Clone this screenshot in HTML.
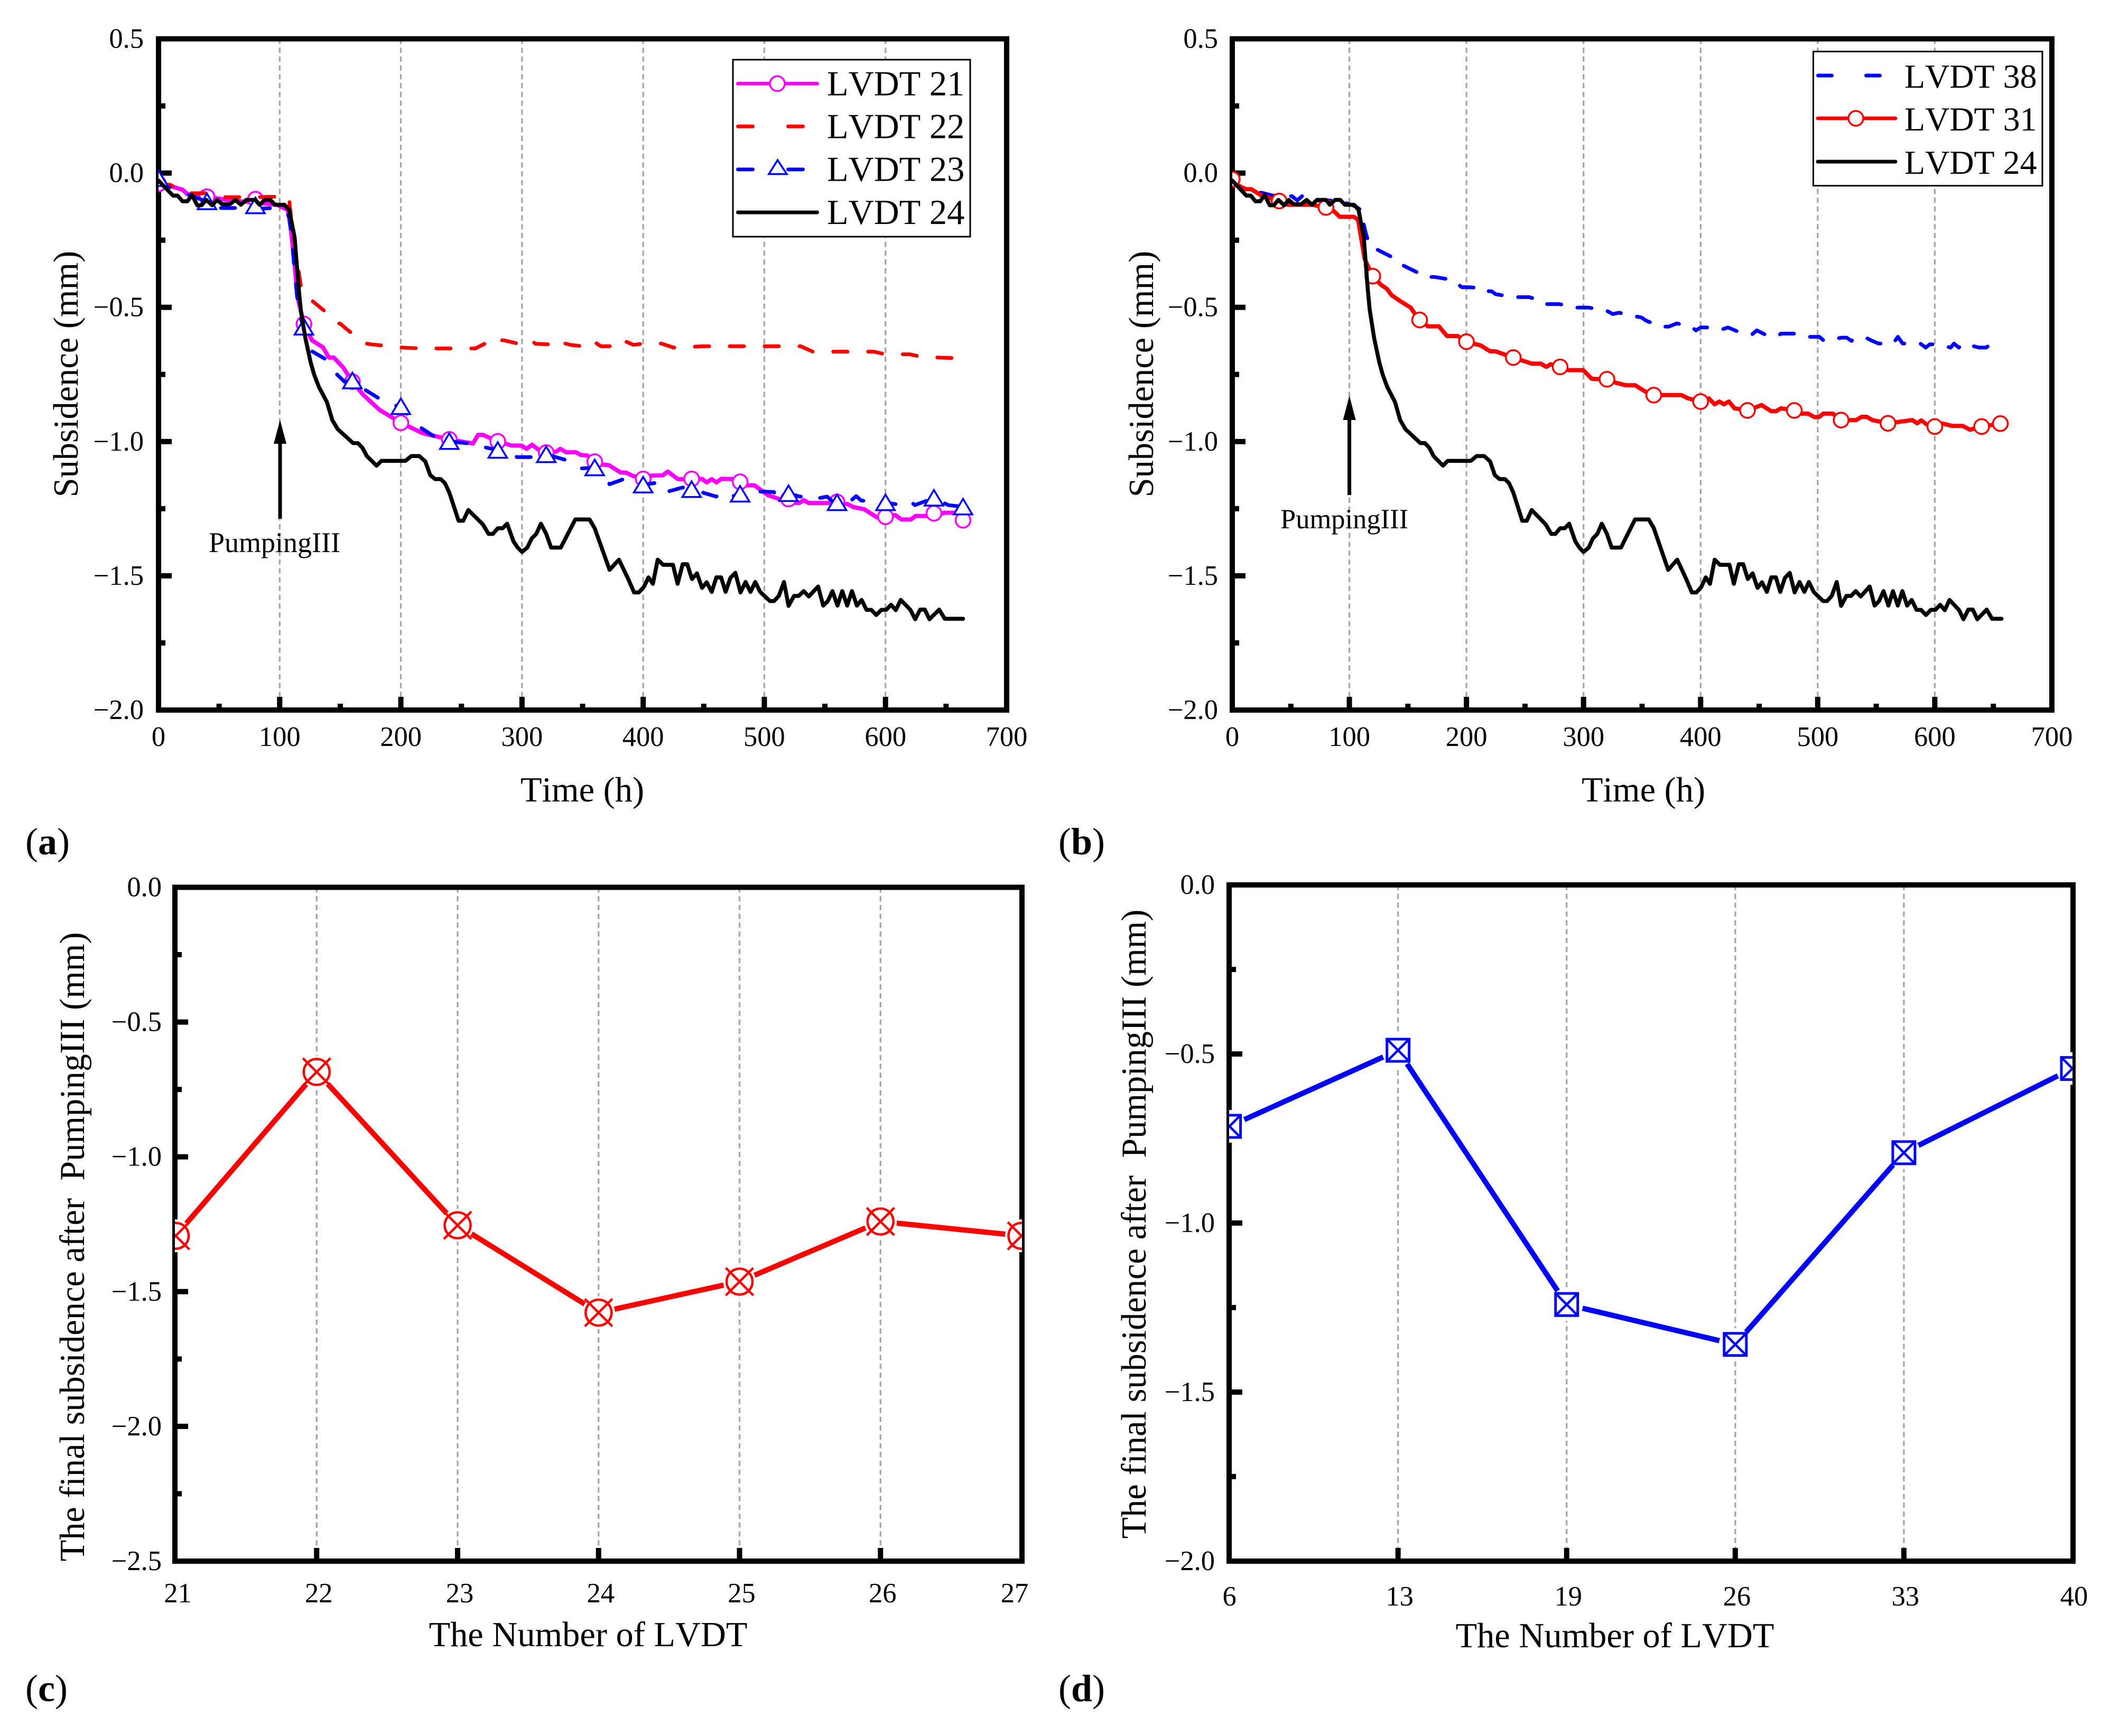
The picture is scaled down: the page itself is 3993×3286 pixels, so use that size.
<!DOCTYPE html>
<html lang="en">
<head>
<meta charset="utf-8">
<title>LVDT subsidence charts</title>
<style>
html,body{margin:0;padding:0;background:#fff;}
svg{display:block;}
text{font-family:"Liberation Serif","Times New Roman",serif;fill:#000;font-kerning:none;}
.tick{font-size:52.5px;}
.title{font-size:66.4px;white-space:pre;}
.legend{font-size:66.5px;}
.legend-b{font-size:64px;}
.note{font-size:54px;}
.note-b{font-size:52.5px;}
.tag{font-size:72px;}
</style>
</head>
<body>
<svg id="figure" xmlns="http://www.w3.org/2000/svg" width="3993" height="3286" viewBox="0 0 3993 3286">
  <rect x="0" y="0" width="3993" height="3286" fill="#fff"/>
  <defs>
    <clipPath id="clip-a"><rect x="300" y="73.5" width="1605" height="1270.5"/></clipPath>
    <clipPath id="clip-b"><rect x="2332" y="73.5" width="1551" height="1270.5"/></clipPath>
    <clipPath id="clip-c"><rect x="331" y="1679.5" width="1603" height="1275.5"/></clipPath>
    <clipPath id="clip-d"><rect x="2326" y="1675" width="1596" height="1280"/></clipPath>
  </defs>

  <g id="panel-a"></g>
  <g id="panel-b"></g>
  <g id="panel-c"></g>
  <g id="panel-d"></g>

  <text class="title" text-anchor="middle" transform="translate(147 708) rotate(-90)">Subsidence (mm)</text>
  <text class="title" text-anchor="middle" x="1102" y="1517">Time (h)</text>
  <text class="title" text-anchor="middle" transform="translate(2182 708) rotate(-90)">Subsidence (mm)</text>
  <text class="title" text-anchor="middle" x="3110" y="1517">Time (h)</text>
  <text class="title" text-anchor="middle" transform="translate(159 2360) rotate(-90)">The final subsidence after  PumpingIII (mm)</text>
  <text class="title" text-anchor="middle" x="1113" y="3116">The Number of LVDT</text>
  <text class="title" text-anchor="middle" transform="translate(2168 2317) rotate(-90)">The final subsidence after  PumpingIII (mm)</text>
  <text class="title" text-anchor="middle" x="3056" y="3118">The Number of LVDT</text>

  <g>
    <line x1="530" y1="982" x2="530" y2="830" stroke="#000" stroke-width="7"/>
    <polygon points="530,795 518,840 542,840" fill="#000"/>
    <text class="note" x="395" y="1045">PumpingIII</text>
  </g>
  <g>
    <line x1="2553.6" y1="937" x2="2553.6" y2="785" stroke="#000" stroke-width="7"/>
    <polygon points="2553.6,749 2541.6,795 2565.6,795" fill="#000"/>
    <text class="note-b" x="2423" y="1000">PumpingIII</text>
  </g>

  <g>
    <rect x="1387" y="113" width="449" height="335" fill="#fff" stroke="#000" stroke-width="3"/>
    <g>
      <line x1="1396.5" y1="158.3" x2="1546.5" y2="158.3" stroke="#ff00ff" stroke-width="7" stroke-linecap="round"/>
      <circle cx="1471" cy="158.3" r="14" fill="#fff" stroke="#ff00ff" stroke-width="3.5"/>
      <text class="legend" x="1565" y="180.7">LVDT 21</text>
    </g>
    <g>
      <line x1="1396.5" y1="239.3" x2="1519.5" y2="239.3" stroke="#ff0000" stroke-width="7" stroke-linecap="round" stroke-dasharray="28 67"/>
      <text class="legend" x="1565" y="261.7">LVDT 22</text>
    </g>
    <g>
      <line x1="1396.5" y1="320.7" x2="1519.5" y2="320.7" stroke="#0000ff" stroke-width="7" stroke-linecap="round" stroke-dasharray="28 67"/>
      <polygon points="1471.5,303 1455,329.5 1489,329.5" fill="#fff" stroke="#0000ff" stroke-width="3.5"/>
      <text class="legend" x="1565" y="342.7">LVDT 23</text>
    </g>
    <g>
      <line x1="1396.5" y1="402" x2="1546.5" y2="402" stroke="#000" stroke-width="7" stroke-linecap="round"/>
      <text class="legend" x="1565" y="424">LVDT 24</text>
    </g>
  </g>

  <g>
    <rect x="3431.5" y="97.5" width="433.5" height="254" fill="#fff" stroke="#000" stroke-width="3"/>
    <g>
      <line x1="3440.5" y1="143" x2="3558.5" y2="143" stroke="#0000ff" stroke-width="7" stroke-linecap="round" stroke-dasharray="26 65"/>
      <text class="legend-b" x="3604" y="166">LVDT 38</text>
    </g>
    <g>
      <line x1="3440" y1="224" x2="3587" y2="224" stroke="#ff0000" stroke-width="7" stroke-linecap="round"/>
      <circle cx="3512" cy="224" r="14" fill="#fff" stroke="#ff0000" stroke-width="3.5"/>
      <text class="legend-b" x="3604" y="247">LVDT 31</text>
    </g>
    <g>
      <line x1="3440" y1="306" x2="3587" y2="306" stroke="#000" stroke-width="7" stroke-linecap="round"/>
      <text class="legend-b" x="3604" y="329">LVDT 24</text>
    </g>
  </g>

  <text class="tag" x="48" y="1617">(<tspan font-weight="bold">a</tspan>)</text>
  <text class="tag" x="2003" y="1617">(<tspan font-weight="bold">b</tspan>)</text>
  <text class="tag" x="48" y="3220">(<tspan font-weight="bold">c</tspan>)</text>
  <text class="tag" x="2003" y="3220">(<tspan font-weight="bold">d</tspan>)</text>
</svg>

<script>
// ---------- data: panels (a) and (b) ----------
var timeTicks = [0, 100, 200, 300, 400, 500, 600, 700];
var timeMinorTicks = [50, 150, 250, 350, 450, 550, 650];
var timeGrid = [100, 200, 300, 400, 500, 600];
var subsidenceTicks = [0.5, 0, -0.5, -1, -1.5, -2];
var subsidenceMinorTicks = [0.25, -0.25, -0.75, -1.25, -1.75];
var subsidenceLabels = ['0.5', '0.0', '\u22120.5', '\u22121.0', '\u22121.5', '\u22122.0'];

var time24 = [0,6.4,12,15.8,19.8,23.8,27.6,32,35.4,39.4,44.3,48.3,52.5,58.8,63.5,68,72.4,80,83.3,87.8,92.2,96.2,104,107.8,112.3,115.6,117.4,121.2,125.6,128.5,132.3,139,143.4,147.9,158,160.6,164.6,168.4,171.9,180,183.9,203.7,208.7,215.2,220.2,224.2,228.3,232.9,236.4,240,247.7,251.5,255.7,267.6,272.4,276,280,284,287.7,293,296.4,300,304.4,308,311.8,315.6,320,324,332,344,355.7,360,372.3,380,387.7,392.5,396.4,400.5,404.4,408,412,416.5,424.6,428.4,432.6,436.4,440.3,444.4,448.6,452.4,456.6,460.4,464.3,468,472,476.1,480.3,484.5,488.6,492.5,496.6,504.6,508,512,516.2,520,524.5,528.4,532.5,536.7,544.4,548.6,552.4,556.2,560.4,564.3,568.4,572.3,576.4,580.3,584.4,588.3,592.4,596.6,600.5,604.6,608.5,612.6,620.6,624.5,628.6,632.5,636.3,644.3,648.9];
var value24 = [-0.028,-0.058,-0.084,-0.084,-0.105,-0.105,-0.082,-0.12,-0.12,-0.1,-0.12,-0.1,-0.116,-0.116,-0.1,-0.118,-0.1,-0.1,-0.118,-0.1,-0.1,-0.118,-0.118,-0.137,-0.239,-0.427,-0.51,-0.615,-0.706,-0.751,-0.796,-0.853,-0.92,-0.954,-0.995,-1.006,-1.006,-1.024,-1.054,-1.09,-1.072,-1.072,-1.054,-1.054,-1.074,-1.125,-1.14,-1.14,-1.155,-1.19,-1.295,-1.295,-1.255,-1.308,-1.344,-1.344,-1.323,-1.323,-1.306,-1.372,-1.395,-1.411,-1.395,-1.361,-1.344,-1.306,-1.344,-1.395,-1.395,-1.29,-1.29,-1.323,-1.478,-1.44,-1.512,-1.562,-1.562,-1.542,-1.506,-1.53,-1.44,-1.459,-1.459,-1.53,-1.457,-1.457,-1.512,-1.491,-1.545,-1.524,-1.56,-1.506,-1.506,-1.56,-1.508,-1.489,-1.562,-1.523,-1.56,-1.523,-1.56,-1.594,-1.594,-1.575,-1.523,-1.612,-1.575,-1.575,-1.557,-1.577,-1.54,-1.611,-1.594,-1.557,-1.611,-1.557,-1.611,-1.557,-1.611,-1.59,-1.627,-1.627,-1.646,-1.627,-1.627,-1.608,-1.628,-1.59,-1.627,-1.662,-1.626,-1.626,-1.662,-1.626,-1.66];
var endTime24A = [664];
var endTime24B = [657];
var endValue24 = [-1.66];

var time21 = [0,10.9,19.8,24.2,33,55.4,97.8,106.7,109,112.3,114.5,120,126.7,135.7,140.6,144.6,152.4,160,169,182.4,200,218,232.6,240,259.6,263.7,267.6,280,291.6,299.6,303.8,308.3,315.6,320,328.4,331.6,336.5,344.5,348.6,354,360,366.9,371.7,381.3,386.1,391,400,407,416,420.4,428.7,440,448.6,452.4,456.6,460.4,464.6,480,485.4,491.8,503,507.9,520,528.7,532.5,536.7,560,568.7,573.5,582.5,592.8,600,608.1,613,621,624.8,640,648.8,664];
var value21 = [-0.04,-0.05,-0.062,-0.08,-0.08,-0.1,-0.118,-0.137,-0.2,-0.337,-0.457,-0.562,-0.623,-0.649,-0.687,-0.687,-0.724,-0.777,-0.826,-0.882,-0.93,-0.969,-0.984,-0.992,-1.007,-0.975,-0.975,-0.9995,-1.015,-1.015,-1.027,-1.012,-1.037,-1.041,-1.037,-1.027,-1.04,-1.04,-1.05,-1.052,-1.075,-1.086,-1.088,-1.115,-1.116,-1.127,-1.139,-1.127,-1.126,-1.112,-1.14,-1.14,-1.139,-1.152,-1.14,-1.152,-1.139,-1.14,-1.163,-1.163,-1.2,-1.207,-1.226,-1.229,-1.218,-1.229,-1.229,-1.233,-1.244,-1.252,-1.282,-1.28,-1.274,-1.29,-1.29,-1.277,-1.277,-1.265,-1.265];
var markerTime21 = [0,40,80,120,160,200,240,280,320,360,400,440,480,520,560,600,640,664];
var markerValue21 = [-0.04,-0.088,-0.097,-0.562,-0.777,-0.93,-0.992,-0.9995,-1.041,-1.075,-1.139,-1.139,-1.15,-1.214,-1.225,-1.28,-1.267,-1.293];

var time22 = [0,9.8,23.1,33.2,46.5,52,60,74.4,101,108,108.2,110,115.6,117.8,121.2,124.5,126.3,139,143.4,147.9,150,163,168.4,175.3,191.4,203.6,219.2,261.5,272.7,276,280.5,285,299.4,305,307.7,311.2,324,327.3,331.7,335,340,350,357,365,378,382,392,400,415,425,450,530,540,550,570,590,600,620,630,664];
var value22 = [-0.04,-0.044,-0.075,-0.075,-0.075,-0.09,-0.09,-0.09,-0.088,-0.088,-0.118,-0.186,-0.367,-0.43,-0.45,-0.461,-0.474,-0.521,-0.533,-0.559,-0.561,-0.61,-0.632,-0.638,-0.645,-0.651,-0.653,-0.653,-0.628,-0.639,-0.623,-0.623,-0.638,-0.636,-0.623,-0.636,-0.638,-0.623,-0.62,-0.634,-0.64,-0.645,-0.62,-0.645,-0.645,-0.62,-0.64,-0.635,-0.635,-0.65,-0.645,-0.645,-0.665,-0.665,-0.665,-0.665,-0.675,-0.675,-0.685,-0.69];

var time23 = [0,7,20,30,40,51,60,72,86.6,96,101,105.6,107.8,110,112.3,115.2,117.8,120,126.7,139.7,145.2,153.5,160,167.9,184.7,188.7,192.5,200,208,217,232.6,240,260,267.6,270,280,287.7,295.8,311.8,320,339.7,344.5,349.3,360,366.9,372.3,384.5,387.7,394.1,400,410.1,412.4,416.5,432.6,440,460.4,464,468.5,472.6,480,488.6,492.5,495,507.9,512,520,529.3,536.7,539,551.8,556,560,571,575.8,580,592.1,596,600,615.2,620,624.2,640,652,664];
var value23 = [-0.02,-0.05,-0.07,-0.09,-0.106,-0.13,-0.13,-0.13,-0.132,-0.13,-0.133,-0.148,-0.163,-0.239,-0.367,-0.495,-0.547,-0.573,-0.664,-0.698,-0.741,-0.777,-0.773,-0.8,-0.847,-0.849,-0.864,-0.869,-0.913,-0.95,-0.996,-0.999,-1.009,-1.009,-1.022,-1.032,-1.024,-1.058,-1.058,-1.048,-1.073,-1.075,-1.1,-1.097,-1.12,-1.159,-1.139,-1.158,-1.159,-1.161,-1.154,-1.158,-1.191,-1.171,-1.178,-1.205,-1.188,-1.205,-1.205,-1.195,-1.222,-1.188,-1.186,-1.188,-1.222,-1.193,-1.205,-1.205,-1.216,-1.205,-1.222,-1.227,-1.222,-1.203,-1.22,-1.222,-1.238,-1.227,-1.238,-1.22,-1.237,-1.21,-1.237,-1.243];
var markerTime23 = [0,40,80,120,160,200,240,280,320,360,400,440,480,520,560,600,640,664];
var markerValue23 = [-0.02,-0.106,-0.121,-0.573,-0.773,-0.869,-0.999,-1.032,-1.048,-1.097,-1.161,-1.178,-1.195,-1.193,-1.227,-1.227,-1.21,-1.243];

var time31 = [0,11.7,16.3,24.4,39.4,47.4,68.2,79.7,86.6,91.7,103.9,107.4,109.7,113.1,120,126.9,132,136.1,144.2,152.3,159.6,167.2,176.5,183.4,192.6,199.5,212.2,220.2,224.9,239.8,256,263.6,268.2,272,279.7,287,299.7,307,313.9,320,327.6,335.8,344,353.6,359.9,368.7,383.7,389.2,400.1,407,411.9,416,419.8,424.2,428.9,439.8,452.1,460.3,464.4,468.6,480,486.4,491.8,497.3,501.4,504.7,512.9,520,532.9,537.5,541.9,546.6,560.2,580.8,584.9,588.4,593.1,600.2,606.8,615,624,630,640.4,656.3];
var value31 = [-0.036,-0.06,-0.06,-0.082,-0.104,-0.118,-0.118,-0.128,-0.141,-0.163,-0.163,-0.174,-0.233,-0.321,-0.384,-0.416,-0.431,-0.455,-0.479,-0.501,-0.547,-0.571,-0.571,-0.607,-0.607,-0.628,-0.642,-0.664,-0.664,-0.687,-0.71,-0.71,-0.722,-0.712,-0.722,-0.734,-0.734,-0.766,-0.768,-0.768,-0.781,-0.79,-0.79,-0.816,-0.827,-0.827,-0.827,-0.839,-0.851,-0.839,-0.861,-0.851,-0.861,-0.851,-0.876,-0.884,-0.864,-0.887,-0.887,-0.876,-0.884,-0.896,-0.896,-0.909,-0.908,-0.896,-0.896,-0.92,-0.92,-0.908,-0.908,-0.92,-0.932,-0.92,-0.932,-0.921,-0.936,-0.944,-0.933,-0.942,-0.942,-0.956,-0.944,-0.933];
var markerTime31 = [0,40,80,120,160,200,240,280,320,360,400,440,480,520,560,600,640,656];
var markerValue31 = [-0.023,-0.104,-0.128,-0.384,-0.547,-0.628,-0.687,-0.722,-0.768,-0.827,-0.851,-0.884,-0.884,-0.92,-0.932,-0.944,-0.944,-0.933];

var time38 = [0,8.3,25.6,34.8,50.9,55.5,60.1,64.7,91.2,105,109.7,110.8,114.3,116.6,119.3,135.5,145.4,159.9,163.8,173,188,196,200.7,213.3,216.1,221.4,224.9,239.8,253.6,265.9,268.2,279,291.7,294,304.3,319.4,324.9,330.3,342.7,349.5,353.6,365.9,372.8,379.6,391.9,396,400.1,405.6,417.9,423.4,431.6,443.9,448,454.9,465.8,468.5,479.5,493.2,501.4,505.5,520.6,524.7,528.8,532.9,541.1,546.6,552,564.3,568.5,572.6,587.6,592.3,595.8,601.9,613.6,616.4,620.5,624,637.7,643.7,649.1];
var value38 = [-0.036,-0.06,-0.074,-0.084,-0.086,-0.102,-0.084,-0.102,-0.102,-0.124,-0.137,-0.163,-0.229,-0.26,-0.275,-0.311,-0.343,-0.374,-0.387,-0.387,-0.398,-0.425,-0.425,-0.428,-0.44,-0.44,-0.451,-0.462,-0.462,-0.479,-0.488,-0.488,-0.497,-0.501,-0.501,-0.512,-0.525,-0.52,-0.532,-0.538,-0.55,-0.572,-0.572,-0.56,-0.572,-0.586,-0.575,-0.575,-0.583,-0.575,-0.59,-0.601,-0.586,-0.601,-0.608,-0.598,-0.598,-0.61,-0.61,-0.625,-0.613,-0.613,-0.625,-0.613,-0.613,-0.625,-0.635,-0.635,-0.61,-0.635,-0.635,-0.65,-0.638,-0.638,-0.65,-0.635,-0.65,-0.635,-0.65,-0.65,-0.635];

// ---------- data: panels (c) and (d) ----------
var categoriesC = ['21', '22', '23', '24', '25', '26', '27'];
var finalSubsidenceC = [-1.293, -0.685, -1.254, -1.578, -1.463, -1.24, -1.293];
var yTicksC = [0, -0.5, -1, -1.5, -2, -2.5];
var yMinorTicksC = [-0.25, -0.75, -1.25, -1.75, -2.25];
var yLabelsC = ['0.0', '\u22120.5', '\u22121.0', '\u22121.5', '\u22122.0', '\u22122.5'];

var categoriesD = ['6', '13', '19', '26', '33', '40'];
var finalSubsidenceD = [-0.714, -0.489, -1.241, -1.359, -0.792, -0.543];
var yTicksD = [0, -0.5, -1, -1.5, -2];
var yMinorTicksD = [-0.25, -0.75, -1.25, -1.75];
var yLabelsD = ['0.0', '\u22120.5', '\u22121.0', '\u22121.5', '\u22122.0'];

// ---------- helpers ----------
var NS = 'http://www.w3.org/2000/svg';
function mk(tag, parent, attrs) {
  var el = document.createElementNS(NS, tag);
  for (var k in attrs) { el.setAttribute(k, attrs[k]); }
  parent.appendChild(el);
  return el;
}
function linear(d0, d1, r0, r1) {
  return function (v) { return r0 + (v - d0) * (r1 - r0) / (d1 - d0); };
}
function pathFrom(xs, ys, sx, sy) {
  var d = '';
  for (var i = 0; i < xs.length; i++) {
    d += (i ? 'L' : 'M') + sx(xs[i]).toFixed(1) + ' ' + sy(ys[i]).toFixed(1);
  }
  return d;
}
function drawAxes(root, prefix, box, sx, sy, o) {
  var i, el;
  for (i = 0; i < o.grid.length; i++) {
    el = mk('line', root, {x1: sx(o.grid[i]), x2: sx(o.grid[i]), y1: box.y0, y2: box.y1, stroke: '#a6a6a6', 'stroke-width': 3.3, 'stroke-dasharray': '10 6.7'});
    
    
  }
  el = mk('rect', root, {x: box.x0, y: box.y0, width: box.x1 - box.x0, height: box.y1 - box.y0, fill: 'none', stroke: '#000', 'stroke-width': 10});
  
  
  for (i = 0; i < o.yTicks.length; i++) {
    var yy = sy(o.yTicks[i]);
    el = mk('rect', root, {x: box.x0, y: yy - 5, width: 25, height: 10, fill: '#000'});
    
    
    el = mk('text', root, {x: box.labelRight, y: yy + 17, 'text-anchor': 'end', 'class': 'tick'});
    el.textContent = o.yLabels[i];
    
    
  }
  for (i = 0; i < o.yMinor.length; i++) {
    el = mk('rect', root, {x: box.x0, y: sy(o.yMinor[i]) - 5, width: 13, height: 10, fill: '#000'});
    
    
  }
  for (i = 0; i < o.xMajor.length; i++) {
    el = mk('rect', root, {x: sx(o.xMajor[i]) - 5, y: box.y1 - 25, width: 10, height: 25, fill: '#000'});
    
    
  }
  for (i = 0; i < o.xMinor.length; i++) {
    el = mk('rect', root, {x: sx(o.xMinor[i]) - 5, y: box.y1 - 12, width: 10, height: 12, fill: '#000'});
    
    
  }
  for (i = 0; i < o.xLabels.length; i++) {
    el = mk('text', root, {x: sx(o.xLabelAt[i]) + (o.xLabelShift ? o.xLabelShift(i) : 0), y: box.labelBase, 'text-anchor': 'middle', 'class': 'tick'});
    el.textContent = o.xLabels[i];
    
    
  }
}
function drawSeries(parent, name, xs, ys, sx, sy, color, width, dash) {
  var attrs = {d: pathFrom(xs, ys, sx, sy), fill: 'none', stroke: color, 'stroke-width': width, 'stroke-linejoin': 'round', 'stroke-linecap': 'round'};
  if (dash) { attrs['stroke-dasharray'] = dash; }
  var el = mk('path', parent, attrs);
  
  
}
function drawCircles(parent, name, xs, ys, sx, sy, color) {
  for (var i = 0; i < xs.length; i++) {
    var el = mk('circle', parent, {cx: sx(xs[i]), cy: sy(ys[i]), r: 14, fill: '#fff', stroke: color, 'stroke-width': 3.5});
    
    
  }
}
function drawTriangles(parent, name, xs, ys, sx, sy, color) {
  for (var i = 0; i < xs.length; i++) {
    var cx = sx(xs[i]), cy = sy(ys[i]);
    var pts = cx + ',' + (cy - 15) + ' ' + (cx - 17.5) + ',' + (cy + 14.5) + ' ' + (cx + 17.5) + ',' + (cy + 14.5);
    var el = mk('polygon', parent, {points: pts, fill: '#fff', stroke: color, 'stroke-width': 3.5});
    
    
  }
}

// ---------- panel (a) ----------
(function () {
  var root = document.getElementById('panel-a');
  var box = {x0: 300, x1: 1905, y0: 73.5, y1: 1344, labelRight: 272, labelBase: 1412};
  var sx = linear(0, 700, box.x0, box.x1);
  var sy = linear(0.5, -2, box.y0, box.y1);
  drawAxes(root, 'panel-a', box, sx, sy, {grid: timeGrid, yTicks: subsidenceTicks, yLabels: subsidenceLabels, yMinor: subsidenceMinorTicks, xMajor: timeTicks.slice(1, -1), xMinor: timeMinorTicks, xLabels: timeTicks, xLabelAt: timeTicks});
  var g = mk('g', root, {'clip-path': 'url(#clip-a)'});
  
  
  drawSeries(g, 'line-lvdt-21', time21, value21, sx, sy, '#ff00ff', 8);
  drawCircles(g, 'marker-lvdt-21', markerTime21, markerValue21, sx, sy, '#ff00ff');
  drawSeries(g, 'line-lvdt-22', time22, value22, sx, sy, '#ff0000', 7, '27 39');
  drawSeries(g, 'line-lvdt-23', time23, value23, sx, sy, '#0000ff', 7, '27 39');
  drawTriangles(g, 'marker-lvdt-23', markerTime23, markerValue23, sx, sy, '#0000ff');
  drawSeries(g, 'line-lvdt-24', time24.concat(endTime24A), value24.concat(endValue24), sx, sy, '#000', 7.5);
})();

// ---------- panel (b) ----------
(function () {
  var root = document.getElementById('panel-b');
  var box = {x0: 2332, x1: 3883, y0: 73.5, y1: 1344, labelRight: 2305, labelBase: 1412};
  var sx = linear(0, 700, box.x0, box.x1);
  var sy = linear(0.5, -2, box.y0, box.y1);
  drawAxes(root, 'panel-b', box, sx, sy, {grid: timeGrid, yTicks: subsidenceTicks, yLabels: subsidenceLabels, yMinor: subsidenceMinorTicks, xMajor: timeTicks.slice(1, -1), xMinor: timeMinorTicks, xLabels: timeTicks, xLabelAt: timeTicks});
  var g = mk('g', root, {'clip-path': 'url(#clip-b)'});
  
  
  drawSeries(g, 'line-lvdt-38', time38, value38, sx, sy, '#0000ff', 7, '27 31');
  drawSeries(g, 'line-lvdt-31', time31, value31, sx, sy, '#ff0000', 8);
  drawCircles(g, 'marker-lvdt-31', markerTime31, markerValue31, sx, sy, '#ff0000');
  drawSeries(g, 'line-lvdt-24-b', time24.concat(endTime24B), value24.concat(endValue24), sx, sy, '#000', 7.5);
})();

// ---------- panels (c) and (d) ----------
function indexList(arr) {
  return arr.map(function (_, i) { return i; });
}
(function () {
  var root = document.getElementById('panel-c');
  var box = {x0: 331, x1: 1934, y0: 1679.5, y1: 2955, labelRight: 306, labelBase: 3033};
  var idx = indexList(categoriesC);
  var sx = linear(0, categoriesC.length - 1, 332.5, 1933);
  var sy = linear(0, -2.5, box.y0, box.y1);
  drawAxes(root, 'panel-c', box, sx, sy, {grid: idx.slice(1, -1), yTicks: yTicksC, yLabels: yLabelsC, yMinor: yMinorTicksC, xMajor: idx.slice(1, -1), xMinor: [], xLabels: categoriesC, xLabelAt: idx,
    xLabelShift: function (i) { return i === categoriesC.length - 1 ? -13 : 4; }});
  var g = mk('g', root, {'clip-path': 'url(#clip-c)'});
  
  
  drawSeries(g, 'line-final-subsidence-c', idx, finalSubsidenceC, sx, sy, '#ff0000', 10);
  for (var i = 0; i < idx.length; i++) {
    var cx = sx(idx[i]), cy = sy(finalSubsidenceC[i]);
    var m = mk('g', g, {});
    
    
    mk('circle', m, {cx: cx, cy: cy, r: 31, fill: '#fff'});
    mk('circle', m, {cx: cx, cy: cy, r: 24.5, fill: '#fff', stroke: '#ff0000', 'stroke-width': 4.5});
    mk('path', m, {d: 'M' + (cx - 26) + ' ' + (cy - 26) + 'L' + (cx + 26) + ' ' + (cy + 26) + 'M' + (cx + 26) + ' ' + (cy - 26) + 'L' + (cx - 26) + ' ' + (cy + 26), stroke: '#ff0000', 'stroke-width': 4.5, fill: 'none'});
  }
})();
(function () {
  var root = document.getElementById('panel-d');
  var box = {x0: 2326, x1: 3923, y0: 1675, y1: 2955, labelRight: 2299, labelBase: 3039};
  var idx = indexList(categoriesD);
  var sx = linear(0, categoriesD.length - 1, 2326.6, 3922);
  var sy = linear(0, -2, box.y0, box.y1);
  drawAxes(root, 'panel-d', box, sx, sy, {grid: idx.slice(1, -1), yTicks: yTicksD, yLabels: yLabelsD, yMinor: yMinorTicksD, xMajor: idx.slice(1, -1), xMinor: [], xLabels: categoriesD, xLabelAt: idx,
    xLabelShift: function (i) { return i === 0 ? 0 : 3; }});
  var g = mk('g', root, {'clip-path': 'url(#clip-d)'});
  
  
  drawSeries(g, 'line-final-subsidence-d', idx, finalSubsidenceD, sx, sy, '#0000ff', 10);
  for (var i = 0; i < idx.length; i++) {
    var cx = sx(idx[i]), cy = sy(finalSubsidenceD[i]);
    var m = mk('g', g, {});
    
    
    mk('circle', m, {cx: cx, cy: cy, r: 31, fill: '#fff'});
    mk('rect', m, {x: cx - 21, y: cy - 21, width: 42, height: 42, fill: '#fff', stroke: '#0000ff', 'stroke-width': 5});
    mk('path', m, {d: 'M' + (cx - 21) + ' ' + (cy - 21) + 'L' + (cx + 21) + ' ' + (cy + 21) + 'M' + (cx + 21) + ' ' + (cy - 21) + 'L' + (cx - 21) + ' ' + (cy + 21), stroke: '#0000ff', 'stroke-width': 4.5, fill: 'none'});
  }
})();
</script>
</body>
</html>
